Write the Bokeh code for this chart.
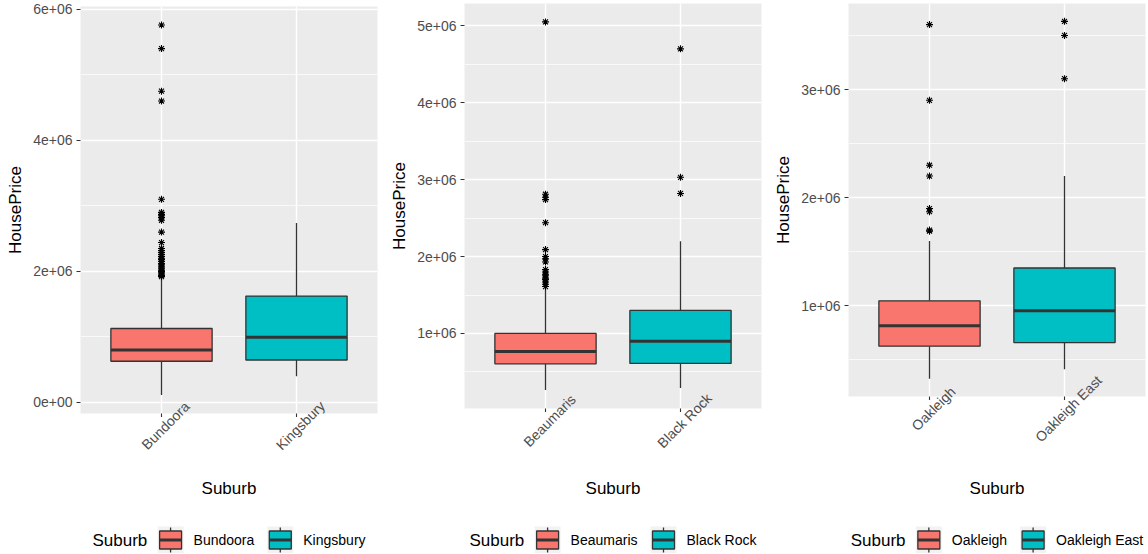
import math
from bokeh.plotting import figure
from bokeh.layouts import row, column
from bokeh.models import (FactorRange, Range1d, FixedTicker, ColumnDataSource,
                          CustomLabelingPolicy)
from bokeh.transform import dodge
from bokeh.core.properties import value
from bokeh.embed import file_html
from bokeh.resources import INLINE

# ---------------- data ----------------
fill_colors = ["#F8766D", "#00BFC4"]

p1_suburbs = ["Bundoora", "Kingsbury"]
p1_q1 = [629000, 648000]
p1_median = [800000, 997000]
p1_q3 = [1129000, 1624000]
p1_lower = [114000, 400000]
p1_upper = [1880000, 2740000]
p1_outliers_bundoora = [5760000, 5400000, 4750000, 4600000, 3100000, 2900000, 2870000,
                        2850000, 2820000, 2780000, 2600000, 2440000, 2350000, 2320000,
                        2290000, 2260000, 2230000, 2200000, 2180000, 2150000, 2120000,
                        2100000, 2070000, 2050000, 2020000, 2000000, 1980000, 1960000,
                        1940000, 1920000]
p1_outliers_kingsbury = []
p1_yticks = [0, 2000000, 4000000, 6000000]
p1_ytick_labels = ["0e+00", "2e+06", "4e+06", "6e+06"]
p1_yminor = [1000000, 3000000, 5000000]

p2_suburbs = ["Beaumaris", "Black Rock"]
p2_q1 = [606000, 610000]
p2_median = [766000, 900000]
p2_q3 = [1000000, 1300000]
p2_lower = [264000, 290000]
p2_upper = [1570000, 2200000]
p2_outliers_beaumaris = [5050000, 2810000, 2770000, 2740000, 2440000, 2090000, 2000000,
                         1970000, 1930000, 1830000, 1800000, 1770000, 1750000, 1720000,
                         1700000, 1670000, 1640000, 1610000]
p2_outliers_black_rock = [4700000, 3030000, 2820000]
p2_yticks = [1000000, 2000000, 3000000, 4000000, 5000000]
p2_ytick_labels = ["1e+06", "2e+06", "3e+06", "4e+06", "5e+06"]
p2_yminor = [500000, 1500000, 2500000, 3500000, 4500000]

p3_suburbs = ["Oakleigh", "Oakleigh East"]
p3_q1 = [627000, 660000]
p3_median = [815000, 954000]
p3_q3 = [1046000, 1350000]
p3_lower = [327000, 414000]
p3_upper = [1600000, 2200000]
p3_outliers_oakleigh = [3600000, 2900000, 2300000, 2200000, 1900000, 1870000, 1700000, 1690000]
p3_outliers_oakleigh_east = [3630000, 3500000, 3100000]
p3_yticks = [1000000, 2000000, 3000000]
p3_ytick_labels = ["1e+06", "2e+06", "3e+06"]
p3_yminor = [500000, 1500000, 2500000, 3500000]

# ---------------- styling helpers ----------------
FONT = "Liberation Sans"
DARK = "#333333"
STRIP_BOTTOM = 500  # where the legend strip starts
LEG_H = 53
OVERLAP = 30
LW = 1.3

ARIAL = {' ': 278, 'a': 556, 'b': 556, 'c': 500, 'd': 556, 'e': 556, 'g': 556, 'h': 556,
         'i': 222, 'k': 500, 'l': 222, 'm': 833, 'n': 556, 'o': 556, 'r': 333, 's': 500,
         't': 278, 'u': 556, 'y': 500, 'B': 667, 'E': 667, 'K': 667, 'O': 778, 'R': 722,
         'S': 667}


def text_width(s, px):
    return sum(ARIAL.get(c, 556) for c in s) * px / 1000.0


def no_labels():
    return CustomLabelingPolicy(code="for (const i of Array.from(indices)) indices.unset(i); return indices")


def make_panel(suburbs, q1, med, q3, lo, hi, outliers, yticks, ylabels, yminor,
               width, border_left, border_right, frame_bottom, top):
    all_vals = list(lo) + list(hi) + [v for o in outliers for v in o]
    vmin, vmax = min(all_vals), max(all_vals)
    pad = 0.05 * (vmax - vmin)

    main_h = frame_bottom + 4
    p = figure(width=width, height=main_h,
               x_range=FactorRange(*suburbs, range_padding=0.1),
               y_range=Range1d(vmin - pad, vmax + pad),
               output_backend="svg", toolbar_location=None,
               min_border_left=border_left, min_border_right=border_right,
               min_border_top=top, min_border_bottom=4)
    p.background_fill_color = "#EBEBEB"
    p.border_fill_color = None
    p.outline_line_color = None

    src = ColumnDataSource(dict(cat=suburbs, q1=q1, med=med, q3=q3, lo=lo, hi=hi,
                                color=fill_colors[:len(suburbs)]))
    ocat, oval = [], []
    for s, o in zip(suburbs, outliers):
        ocat += [s] * len(o)
        oval += list(o)
    osrc = ColumnDataSource(dict(cat=ocat, val=oval))

    p.segment(x0='cat', y0='q3', x1='cat', y1='hi', source=src, line_color=DARK, line_width=LW)
    p.segment(x0='cat', y0='lo', x1='cat', y1='q1', source=src, line_color=DARK, line_width=LW)
    p.vbar(x='cat', bottom='q1', top='q3', width=0.75, source=src,
           fill_color='color', line_color=DARK, line_width=LW)
    p.segment(x0=dodge('cat', -0.375, range=p.x_range), y0='med',
              x1=dodge('cat', 0.375, range=p.x_range), y1='med',
              source=src, line_color=DARK, line_width=3.0)
    p.scatter(x='cat', y='val', source=osrc, marker='asterisk', size=7,
              line_color='black', line_width=1.1)

    p.yaxis.ticker = FixedTicker(ticks=yticks, minor_ticks=yminor)
    p.yaxis.major_label_overrides = {t: l for t, l in zip(yticks, ylabels)}
    for ax in (p.xaxis, p.yaxis):
        ax.axis_line_color = None
        ax.major_tick_line_color = DARK
        ax.major_tick_line_width = 1.1
        ax.major_tick_out = 4
        ax.major_tick_in = 0
        ax.minor_tick_line_color = None
        ax.major_label_text_font = FONT
        ax.major_label_text_font_size = "14px"
        ax.major_label_text_color = "#4D4D4D"
        ax.axis_label_text_font = FONT
        ax.axis_label_text_font_size = "17px"
        ax.axis_label_text_font_style = "normal"
        ax.axis_label_text_color = "black"
    p.yaxis.major_label_standoff = 4
    p.yaxis.axis_label = "HousePrice"
    p.yaxis.axis_label_standoff = 5
    p.xaxis.major_label_text_font_size = "0px"
    p.xaxis.major_label_policy = no_labels()
    p.xaxis.major_label_standoff = 0

    p.xgrid.grid_line_color = "white"
    p.xgrid.grid_line_width = 1.4
    p.ygrid.grid_line_color = "white"
    p.ygrid.grid_line_width = 1.4
    p.ygrid.minor_grid_line_color = "white"
    p.ygrid.minor_grid_line_width = 0.7

    # strip (overlapping the panel bottom) with rotated category labels and the x title
    strip_top = frame_bottom + 4 - OVERLAP
    strip_h = STRIP_BOTTOM - strip_top
    strip_bb = 32
    strip_frame_h = strip_h - strip_bb
    st = figure(width=width, height=strip_h, x_range=p.x_range,
                y_range=Range1d(0, strip_frame_h),
                output_backend="svg", toolbar_location=None, y_axis_location=None,
                min_border_left=border_left, min_border_right=border_right,
                min_border_top=0, min_border_bottom=strip_bb)
    st.margin = (-OVERLAP, 0, 0, 0)
    st.background_fill_color = None
    st.border_fill_color = None
    st.outline_line_color = None
    st.grid.visible = False
    st.xaxis.axis_line_color = None
    st.xaxis.major_tick_line_color = None
    st.xaxis.major_tick_out = 0
    st.xaxis.minor_tick_line_color = None
    st.xaxis.major_label_text_font_size = "0px"
    st.xaxis.major_label_policy = no_labels()
    st.xaxis.major_label_standoff = 0
    st.xaxis.axis_label = "Suburb"
    st.xaxis.axis_label_text_font = FONT
    st.xaxis.axis_label_text_font_size = "17px"
    st.xaxis.axis_label_text_font_style = "normal"
    st.xaxis.axis_label_text_color = "black"
    st.xaxis.axis_label_standoff = 12
    label_y = strip_frame_h - (frame_bottom + 13 - strip_top)
    lsrc = ColumnDataSource(dict(cat=suburbs, y=[label_y] * len(suburbs)))
    st.text(x='cat', y='y', text='cat', source=lsrc, angle=math.pi / 4, x_offset=4,
            text_align="center", text_baseline="middle", text_font=value(FONT),
            text_font_size="14px", text_color="#4D4D4D")

    # legend strip
    frame_w = width - border_left - border_right
    lg = figure(width=width, height=LEG_H, x_range=Range1d(0, frame_w), y_range=Range1d(0, LEG_H),
                output_backend="svg", toolbar_location=None,
                x_axis_location=None, y_axis_location=None,
                min_border_left=border_left, min_border_right=border_right,
                min_border_top=0, min_border_bottom=0)
    lg.outline_line_color = None
    lg.background_fill_color = None
    lg.border_fill_color = None
    lg.grid.visible = False

    key_w, key_h = 26, 27
    title_w = text_width("Suburb", 17)
    lab_w = [text_width(s, 14) for s in suburbs]
    total = title_w + 10.3 + sum(key_w + 10 + w for w in lab_w) + 13 * (len(suburbs) - 1)
    x = frame_w / 2.0 - total / 2.0
    yc = 13.5
    lg.text(x=[x], y=[yc], text=["Suburb"], text_align="left", text_baseline="middle",
            text_font=value(FONT), text_font_size="17px", text_color="black")
    x += title_w + 10.3
    kx, lx = [], []
    for w in lab_w:
        kx.append(x + key_w / 2.0)
        lx.append(x + key_w + 10)
        x += key_w + 10 + w + 13
    ksrc = ColumnDataSource(dict(x=kx, y=[yc] * len(kx), lx=lx, label=suburbs,
                                 color=fill_colors[:len(suburbs)],
                                 w0=[k - 11 for k in kx], w1=[k + 11 for k in kx]))
    lg.rect(x='x', y='y', width=key_w, height=key_h, source=ksrc,
            fill_color="#F2F2F2", line_color=None)
    lg.segment(x0='x', y0=yc - 12.5, x1='x', y1=yc + 12.5, source=ksrc,
               line_color=DARK, line_width=LW)
    lg.rect(x='x', y='y', width=22, height=18, source=ksrc,
            fill_color='color', line_color=DARK, line_width=LW)
    lg.segment(x0='w0', y0='y', x1='w1', y1='y', source=ksrc, line_color=DARK, line_width=2.8)
    lg.text(x='lx', y='y', text='label', source=ksrc, text_align="left", text_baseline="middle",
            text_font=value(FONT), text_font_size="14px", text_color="black")
    return column(p, st, lg, spacing=0)


c1 = make_panel(p1_suburbs, p1_q1, p1_median, p1_q3, p1_lower, p1_upper,
                [p1_outliers_bundoora, p1_outliers_kingsbury],
                p1_yticks, p1_ytick_labels, p1_yminor,
                width=383, border_left=80, border_right=6, frame_bottom=413, top=6)
c2 = make_panel(p2_suburbs, p2_q1, p2_median, p2_q3, p2_lower, p2_upper,
                [p2_outliers_beaumaris, p2_outliers_black_rock],
                p2_yticks, p2_ytick_labels, p2_yminor,
                width=383, border_left=81, border_right=5, frame_bottom=408, top=3)
c3 = make_panel(p3_suburbs, p3_q1, p3_median, p3_q3, p3_lower, p3_upper,
                [p3_outliers_oakleigh, p3_outliers_oakleigh_east],
                p3_yticks, p3_ytick_labels, p3_yminor,
                width=382, border_left=82, border_right=3, frame_bottom=396, top=3)

layout = row(c1, c2, c3, spacing=0)
open("out.html", "w").write(file_html(layout, INLINE))
